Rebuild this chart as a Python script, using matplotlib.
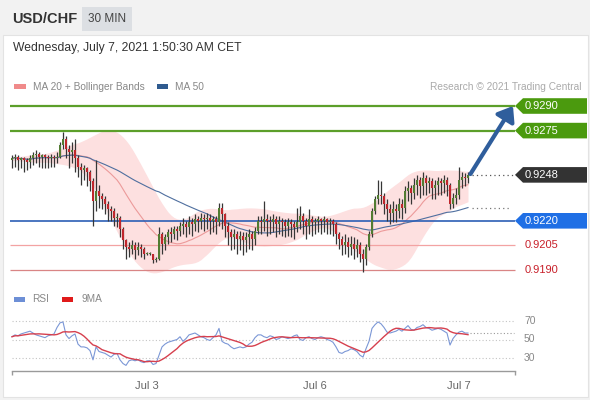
import matplotlib
matplotlib.use("Agg")
import matplotlib.pyplot as plt
import numpy as np
import pandas as pd
from matplotlib.patches import Rectangle, Polygon, FancyArrowPatch

W, H = 590, 400
BASE = 0.9200
PIP = 0.0001

# 30-min candles, pips above 0.9200 (open = previous close)
first_open = 57
close = [58, 59, 57, 58, 57, 56, 58, 60, 61, 59, 60, 59, 58, 59, 58, 59, 66, 70, 64, 62,
         63, 58, 53, 51, 52, 50, 44, 32, 38, 35, 33, 30, 27, 26, 22, 22, 15, 8, 4, 3,
         5, 2, 4, 3, 0, 0, 0, -4, -3, 12, 6, 10, 13, 12, 15, 14, 17, 18, 16, 19,
         18, 21, 20, 22, 21, 22, 20, 21, 19, 28, 24, 17, 13, 10, 12, 9, 11, 8, 10, 12,
         9, 14, 20, 19, 21, 20, 19, 21, 18, 20, 19, 17, 19, 18, 16, 19, 23, 20, 17, 21,
         19, 20, 21, 20, 21, 19, 20, 18, 12, 9, 5, 7, 4, 6, 3, 5, 0, -3, 4, 12,
         26, 33, 36, 35, 30, 27, 25, 27, 26, 30, 28, 38, 40, 37, 42, 45, 41, 46, 43, 44,
         40, 42, 44, 43, 45, 42, 30, 34, 36, 45, 47, 46, 48]
high = [60, 61, 60, 59, 59, 58, 60, 62, 63, 62, 61, 61, 60, 61, 60, 62, 68, 74, 72, 66,
        68, 70, 60, 55, 54, 53, 51, 46, 57, 42, 37, 35, 32, 29, 28, 25, 23, 16, 9, 7,
        8, 7, 7, 6, 4, 1, 1, 0, -2, 16, 13, 12, 15, 16, 17, 17, 19, 22, 20, 23,
        22, 24, 23, 25, 24, 25, 24, 23, 23, 31, 31, 25, 19, 15, 15, 14, 14, 13, 13, 15,
        14, 16, 23, 23, 32, 24, 23, 24, 23, 23, 22, 21, 22, 21, 20, 28, 29, 25, 22, 27,
        23, 22, 23, 22, 23, 22, 22, 21, 19, 13, 11, 12, 10, 11, 10, 9, 7, 3, 6, 14,
        28, 35, 45, 44, 37, 33, 30, 32, 30, 34, 33, 41, 44, 42, 46, 48, 47, 50, 48, 47,
        46, 45, 47, 46, 48, 47, 43, 37, 40, 53, 50, 49, 50]
low = [52, 53, 51, 52, 50, 51, 52, 54, 55, 53, 52, 52, 52, 53, 53, 55, 58, 64, 58, 52,
       55, 50, 47, 42, 45, 41, 38, 17, 26, 28, 27, 24, 20, 20, 17, 16, 10, 3, -3, -2,
       0, -3, -1, -2, -3, -1, -1, -6, -5, -4, 0, 2, 6, 7, 9, 8, 11, 12, 10, 12,
       11, 14, 13, 15, 14, 15, 12, 13, 12, 17, 15, 10, 5, 2, 3, 0, 2, -1, 1, 3,
       2, 5, 12, 12, 14, 11, 12, 13, 10, 12, 11, 10, 11, 10, 9, 13, 15, 12, 9, 12,
       11, 12, 13, 12, 13, 12, 12, 11, 6, 3, -1, 0, -2, -1, -3, -2, -5, -11, -7, 2,
       10, 24, 30, 30, 24, 20, 18, 19, 19, 22, 21, 25, 32, 30, 33, 36, 34, 36, 36, 37,
       33, 33, 36, 36, 37, 35, 27, 28, 30, 33, 40, 41, 43]
rsi = [53, 55, 54, 56, 57, 58, 59, 57, 55, 54, 53, 52, 54, 55, 56, 63, 68, 69, 55, 51,
       54, 56, 45, 42, 42, 41, 38, 28, 42, 37, 36, 35, 33, 31, 34, 35, 28, 24, 22, 27,
       28, 27, 28, 26, 25, 27, 27, 23, 24, 33, 42, 45, 47, 48, 49, 50, 53, 48, 51, 55,
       56, 57, 55, 53, 52, 50, 49, 52, 55, 62, 48, 46, 45, 42, 40, 41, 42, 41, 42, 45,
       47, 52, 55, 55, 53, 52, 54, 53, 50, 51, 53, 52, 51, 52, 54, 55, 50, 49, 52, 53,
       51, 50, 52, 53, 52, 50, 49, 47, 42, 36, 35, 37, 38, 40, 39, 37, 33, 31, 40, 48,
       62, 66, 69, 67, 63, 58, 57, 58, 59, 61, 59, 62, 65, 61, 60, 63, 64, 66, 63, 62,
       60, 61, 62, 61, 59, 57, 44, 51, 55, 58, 59, 57, 57]

tick_pos = [45, 101, 149]
tick_labels = ["Jul 3", "Jul 6", "Jul 7"]
resistances = [0.9290, 0.9275]
pivot = 0.9220
supports = [0.9205, 0.9190]
last_price = 0.9248
target = 0.9290
rsi_levels = [70, 50, 30]

GREEN_LINE = "#5c9f2a"
GREEN_TAG = "#4b9a0e"
BLUE_LINE = "#2c5fb5"
BLUE_TAG = "#1f6fe5"
RED_TXT = "#c8202a"
CANDLE_UP = "#527c32"
CANDLE_DN = "#c0272d"
WICK = "#363636"

plt.rcParams["font.family"] = ["Liberation Sans", "DejaVu Sans"]


def ix(px):
    # pixel column -> candle index
    return (px - 12) / 3.0


def py(px):
    # pixel row -> price
    return BASE + (253.6 - px) / 1.64 * PIP


def box(x0, y0, x1, y1):
    return [x0 / W, 1 - y1 / H, (x1 - x0) / W, (y1 - y0) / H]


c = BASE + np.array(close) * PIP
hi = BASE + np.array(high) * PIP
lo = BASE + np.array(low) * PIP
o = np.r_[BASE + first_open * PIP, c[:-1]]
idx = np.arange(len(c))

s = pd.Series(c)
ma20 = s.rolling(20, min_periods=1).mean()
sd = s.rolling(20, min_periods=2).std(ddof=0).fillna(0)
bb_up = (ma20 + 2 * sd).rolling(9, center=True, min_periods=1).mean()
bb_lo = (ma20 - 2 * sd).rolling(9, center=True, min_periods=1).mean()
ma50 = s.rolling(50, min_periods=1).mean()
rsi_s = pd.Series(rsi, dtype=float)
rsi_ma = rsi_s.rolling(9, min_periods=1).mean()

fig = plt.figure(figsize=(W / 100, H / 100), dpi=100, facecolor="#f2f2f2")

# ---- page chrome ----
bg = fig.add_axes([0, 0, 1, 1])
bg.set_xlim(0, W); bg.set_ylim(H, 0); bg.axis("off")
bg.add_patch(Rectangle((3, 35), 585, 362, facecolor="white", edgecolor="#e3e3e3", lw=0.8))
bg.add_patch(Rectangle((82, 7), 50, 24, facecolor="#dcdfe3", edgecolor="none"))
bg.text(12, 19, "USD/CHF", fontsize=10.5, fontweight="bold", color="#333333", va="center")
bg.text(107, 19, "30 MIN", fontsize=8.5, color="#444444", va="center", ha="center")
bg.text(13, 48, "Wednesday, July 7, 2021 1:50:30 AM CET", fontsize=8.7, color="#333333", va="center")

bg.add_patch(Rectangle((14, 84), 12, 5, facecolor="#f08a8a", edgecolor="none"))
bg.text(33, 86.5, "MA 20 + Bollinger Bands", fontsize=7.3, color="#888888", va="center")
bg.add_patch(Rectangle((157, 84), 11, 5, facecolor="#2f5b8f", edgecolor="none"))
bg.text(175, 86.5, "MA 50", fontsize=7.3, color="#888888", va="center")
bg.text(581, 86.5, "Research \u00a9 2021 Trading Central", fontsize=7.3, color="#aaaaaa",
        va="center", ha="right")

bg.add_patch(Rectangle((14, 297), 11, 5, facecolor="#6d8fd6", edgecolor="none"))
bg.text(32, 299.5, "RSI", fontsize=7.3, color="#888888", va="center")
bg.add_patch(Rectangle((62, 297), 11, 5, facecolor="#e01b1b", edgecolor="none"))
bg.text(81, 299.5, "9MA", fontsize=7.3, color="#888888", va="center")

# ---- price panel ----
ax = fig.add_axes(box(10, 95, 590, 285))
ax.set_facecolor("none")
ax.set_xlim(ix(10), ix(590))
ax.set_ylim(py(285), py(95))
ax.axis("off")

ax.fill_between(idx, bb_lo, bb_up, color="#fde0e0", lw=0, zorder=1)
ax.plot(idx, ma20, color="#ec9a9a", lw=0.8, zorder=2)
ax.plot(idx, ma50, color="#4f6f9f", lw=0.8, zorder=2)

x0, x1 = ix(10), ix(515)
ax.hlines(resistances, x0, x1, color=GREEN_LINE, lw=1.6, zorder=2)
ax.hlines(pivot, x0, x1, color=BLUE_LINE, lw=1.2, zorder=2)
ax.hlines(supports[0], x0, x1, color="#f3a3a3", lw=0.9, zorder=2)
ax.hlines(supports[1], x0, x1, color="#d98585", lw=0.9, zorder=2)

body_lo = np.minimum(o, c)
body_h = np.maximum(np.abs(c - o), 0.3 * PIP)
ax.vlines(idx, lo, hi, color=WICK, lw=0.9, zorder=3)
ax.bar(idx, body_h, bottom=body_lo, width=0.8,
       color=np.where(c >= o, CANDLE_UP, CANDLE_DN), lw=0, zorder=4)

ax.hlines(last_price, ix(472), x1, color="#555555", lw=0.9, linestyles=(0, (1, 2.5)), zorder=2)
ax.hlines(ma50.iloc[-1], ix(472), ix(510), color="#777777", lw=0.9, linestyles=(0, (1, 2.5)), zorder=2)

arrow = FancyArrowPatch((idx[-1] + 0.8, c[-1] + 0.5 * PIP), (ix(513), target),
                        arrowstyle="-|>,head_length=0.6,head_width=0.45", mutation_scale=14,
                        color="#2f5e9c", lw=3.0, zorder=6, shrinkA=0, shrinkB=0)
ax.add_patch(arrow)

th = 7.8 / 1.64 * PIP  # half tag height


def tag(level, color, text_color="white", boxed=True):
    if boxed:
        pts = [(ix(515), level), (ix(523), level + th), (ix(587), level + th),
               (ix(587), level - th), (ix(523), level - th)]
        ax.add_patch(Polygon(pts, closed=True, facecolor=color, edgecolor="none",
                             zorder=5, clip_on=False))
    ax.text(ix(525), level, f"{level:.4f}", fontsize=8, color=text_color, va="center",
            ha="left", zorder=6, clip_on=False)


for r in resistances:
    tag(r, GREEN_TAG)
tag(last_price, "#333333")
tag(pivot, BLUE_TAG)
for sp in supports:
    tag(sp, None, text_color=RED_TXT, boxed=False)

# ---- RSI panel ----
ar = fig.add_axes(box(10, 305, 590, 371))
ar.set_facecolor("none")
ar.set_xlim(ix(10), ix(590))
y_bot, y_top = 50 - (371 - 339.5) / 0.925, 50 + (339.5 - 305) / 0.925
ar.set_ylim(y_bot, y_top)
for sp_name in ar.spines:
    ar.spines[sp_name].set_visible(False)
ar.set_yticks([])
ar.set_xticks(tick_pos)
ar.set_xticklabels(tick_labels)
ar.tick_params(axis="x", length=0, pad=7, labelsize=8, labelcolor="#666666")

ar.hlines(rsi_levels, ix(12), ix(515), color="#c4c4c4", lw=0.8, linestyles=(0, (1, 2)))
for lv in rsi_levels:
    ar.text(ix(524), lv, str(lv), fontsize=7.5, color="#888888", va="center", ha="left")
ar.plot(idx, rsi_s, color="#7b97d6", lw=0.8, zorder=3)
ar.plot(idx, rsi_ma, color="#d6404e", lw=1.0, zorder=4)
ar.hlines(rsi_s.iloc[-1], ix(470), ix(514), color="#999999", lw=0.8, linestyles=(0, (1, 2)))

ar.plot([ix(12), ix(515)], [y_bot, y_bot], color="#9a9a9a", lw=1.0, clip_on=False)
ar.vlines([ix(12), ix(515)], y_bot - 4.5, y_bot, color="#9a9a9a", lw=1.0, clip_on=False)

fig.savefig("out.png", dpi=100, facecolor=fig.get_facecolor())
